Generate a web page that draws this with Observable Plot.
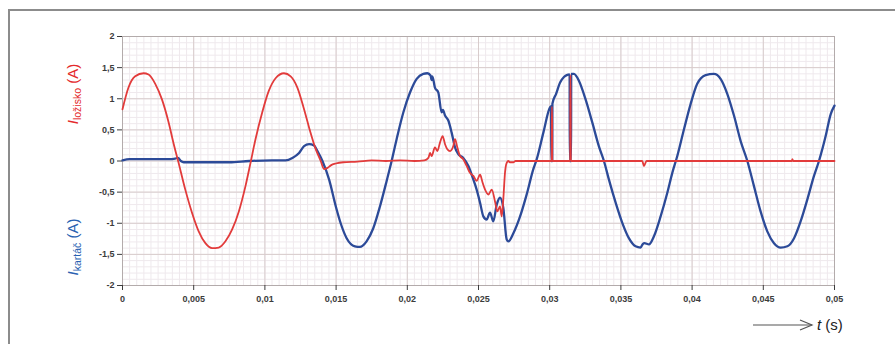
<!DOCTYPE html>
<html><head><meta charset="utf-8">
<script src="https://cdn.jsdelivr.net/npm/d3@7"></script>
<script src="https://cdn.jsdelivr.net/npm/@observablehq/plot@0.6"></script>
<style>
body{margin:0;background:#fff;}
#wrap{position:relative;width:895px;height:344px;overflow:hidden;font-family:"Liberation Sans",Arial,sans-serif;}
#border{position:absolute;left:8px;top:9px;width:1000px;height:1000px;border-left:2px solid #8c8c8c;border-top:2px solid #8c8c8c;}
#chart{position:absolute;left:0;top:0;}
.ylab{position:absolute;transform-origin:center;transform:translate(-50%,-50%) rotate(-90deg);white-space:nowrap;font-size:15px;line-height:1;}
.ylab sub{font-size:10.5px;vertical-align:-3px;}
#tlab{position:absolute;left:817px;top:316px;font-size:15px;color:#222;white-space:nowrap;}
#arrow{position:absolute;left:750px;top:316px;}
</style></head>
<body><div id="wrap"><div id="border"></div><div id="chart"></div>
<div class="ylab" style="left:74px;top:94px;color:#e42a2c"><i>I</i><sub>ložisko</sub> (A)</div>
<div class="ylab" style="left:74px;top:247px;color:#2a62b2"><i>I</i><sub>kartáč</sub> (A)</div>
<svg id="arrow" width="66" height="18"><line x1="3" y1="9" x2="62" y2="9" stroke="#555" stroke-width="1.2"/><polyline points="50,4 62,9 50,14" fill="none" stroke="#555" stroke-width="1.2"/></svg>
<div id="tlab"><i>t</i> (s)</div>
</div>
<script>
const xTicks = [0, 0.005, 0.01, 0.015, 0.02, 0.025, 0.03, 0.035, 0.04, 0.045, 0.05];
const xTickLabels = ["0", "0,005", "0,01", "0,015", "0,02", "0,025", "0,03", "0,035", "0,04", "0,045", "0,05"];
const yTicks = [-2, -1.5, -1, -0.5, 0, 0.5, 1, 1.5, 2];
const yTickLabels = ["-2", "-1,5", "-1", "-0,5", "0", "0,5", "1", "1,5", "2"];

// I_ložisko (red): [t (s), current (A)]
const redCurrent = [
  [0, 0.83], [0.00042, 1.18], [0.00089, 1.36], [0.00148, 1.41], [0.00183, 1.39], [0.0023, 1.24],
  [0.00277, 0.99], [0.00324, 0.62], [0.0036, 0.27], [0.00394, -0.03], [0.00441, -0.46], [0.00488, -0.83],
  [0.00535, -1.13], [0.00582, -1.32], [0.00629, -1.40], [0.00676, -1.39], [0.00723, -1.29], [0.0077, -1.10],
  [0.00817, -0.81], [0.00864, -0.40], [0.00899, -0.03], [0.00934, 0.35], [0.00981, 0.78], [0.01028, 1.13],
  [0.01075, 1.33], [0.01134, 1.41], [0.01181, 1.36], [0.01228, 1.18], [0.01275, 0.83], [0.0131, 0.54],
  [0.01357, 0.19], [0.01392, 0], [0.01415, -0.13], [0.0144, -0.11], [0.01463, -0.07], [0.01498, -0.04],
  [0.0155, -0.02], [0.0165, -0.01], [0.0175, 0.01], [0.0185, 0], [0.0195, 0.01], [0.0205, 0], [0.0212, 0.01],
  [0.02148, 0.05], [0.0216, 0.13], [0.02171, 0.08], [0.02194, 0.22], [0.02211, 0.16], [0.0223, 0.30],
  [0.02248, 0.40], [0.02265, 0.27], [0.02281, 0.19], [0.023, 0.16], [0.02323, 0.24], [0.02335, 0.35],
  [0.02351, 0.22], [0.0237, 0.08], [0.02393, 0.03], [0.02417, -0.08], [0.0244, -0.19], [0.02464, -0.24],
  [0.02487, -0.32], [0.02511, -0.22], [0.02529, -0.35], [0.02546, -0.46], [0.02569, -0.54], [0.02593, -0.46],
  [0.02616, -0.65], [0.02632, -0.81], [0.02651, -0.73], [0.02663, -0.89], [0.02674, -0.62], [0.02686, -0.19],
  [0.02698, -0.03], [0.0271, 0], [0.0272, -0.02], [0.02745, -0.02], [0.0276, 0], [0.0278, 0], [0.029, 0],
  [0.0301, 0], [0.03014, 0], [0.03015, 0.87], [0.03017, 0.87], [0.03018, 0], [0.0308, 0],
  [0.03144, 0], [0.03145, 1.38], [0.03147, 1.38], [0.03148, 0], [0.0325, 0], [0.035, 0], [0.0365, 0],
  [0.03662, -0.08], [0.0368, 0], [0.038, 0], [0.04, 0], [0.042, 0], [0.044, 0], [0.046, 0], [0.047, 0],
  [0.04704, 0.03], [0.0471, 0], [0.0485, 0], [0.05, 0]
];

// I_kartáč (blue): [t (s), current (A)]
const blueCurrent = [
  [0, 0.01], [0.0005, 0.03], [0.0015, 0.03], [0.0025, 0.03], [0.0033, 0.03], [0.0037, 0.04], [0.0039, 0.05],
  [0.0041, 0], [0.0043, -0.02], [0.006, -0.02], [0.0075, -0.02], [0.0089, 0], [0.0105, 0.01], [0.01146, 0.01],
  [0.01193, 0.05], [0.0124, 0.13], [0.01275, 0.24], [0.0131, 0.27], [0.01345, 0.25], [0.01369, 0.16],
  [0.01404, 0], [0.01451, -0.30], [0.01498, -0.73], [0.01535, -1.02], [0.01574, -1.24], [0.01632, -1.37],
  [0.01667, -1.38], [0.01714, -1.29], [0.01761, -1.08], [0.01808, -0.73], [0.01855, -0.32], [0.0189, 0],
  [0.01925, 0.35], [0.01972, 0.78], [0.02019, 1.10], [0.02066, 1.32], [0.02112, 1.40], [0.02141, 1.41],
  [0.02164, 1.37], [0.0217, 1.30], [0.02176, 1.36], [0.02194, 1.18], [0.02218, 1.10], [0.02241, 0.78],
  [0.0225, 0.82], [0.02265, 0.73], [0.02288, 0.65], [0.02311, 0.46], [0.02335, 0.22], [0.02358, 0.11],
  [0.02393, 0.05], [0.02429, -0.08], [0.02464, -0.30], [0.02487, -0.46], [0.02511, -0.67], [0.02534, -0.89],
  [0.02557, -0.94], [0.02581, -0.83], [0.02604, -0.97], [0.02628, -0.70], [0.02651, -0.59], [0.02674, -0.75],
  [0.02698, -1.26], [0.0271, -1.29], [0.02745, -1.16], [0.02792, -0.89], [0.02838, -0.54], [0.02885, -0.13],
  [0.02909, 0.03], [0.02956, 0.46], [0.03002, 0.86], [0.0301, 0.88], [0.03011, 0], [0.03018, 0], [0.03019, 0.92],
  [0.03045, 1.08], [0.03073, 1.26], [0.031, 1.35], [0.0312, 1.38], [0.0314, 1.39], [0.03141, 0], [0.0315, 0],
  [0.03151, 1.40], [0.0317, 1.40], [0.03205, 1.29], [0.03252, 0.99], [0.03299, 0.62], [0.03345, 0.24],
  [0.03381, 0], [0.03416, -0.30], [0.03463, -0.67], [0.03509, -0.99], [0.03556, -1.24], [0.03603, -1.37],
  [0.03638, -1.39], [0.03655, -1.33], [0.03665, -1.32], [0.03697, -1.34], [0.03732, -1.21], [0.03779, -0.89],
  [0.03826, -0.51], [0.03861, -0.19], [0.03896, 0.08], [0.03943, 0.51], [0.03989, 0.91], [0.04036, 1.24],
  [0.04095, 1.38], [0.04153, 1.40], [0.042, 1.32], [0.04247, 1.08], [0.04294, 0.73], [0.04341, 0.32],
  [0.04388, 0], [0.04434, -0.40], [0.04481, -0.81], [0.04528, -1.13], [0.04575, -1.32], [0.04622, -1.39],
  [0.04669, -1.37], [0.04716, -1.24], [0.04762, -0.97], [0.04809, -0.62], [0.04856, -0.24], [0.04891, 0],
  [0.04938, 0.40], [0.04973, 0.75], [0.05, 0.89]
];

const rows = s => s.map(([t, v]) => ({t, v}));
const minorX = d3.range(0, 101).map(i => i * 0.0005);
const minorY = d3.range(-20, 21).map(i => i / 10);

const chart = Plot.plot({
  width: 895, height: 344,
  marginLeft: 122, marginRight: 61, marginTop: 36, marginBottom: 59,
  x: {domain: [0, 0.05]},
  y: {domain: [-2, 2]},
  style: {fontFamily: "'Liberation Sans', Arial, sans-serif", fontSize: "9px", fontWeight: "bold", color: "#3c3c3c", background: "transparent"},
  marks: [
    Plot.ruleX(minorX, {stroke: "#efe9ed", strokeWidth: 1}),
    Plot.ruleY(minorY, {stroke: "#efe9ed", strokeWidth: 1}),
    Plot.ruleX(xTicks, {stroke: "#d8cccc", strokeWidth: 1}),
    Plot.ruleY(yTicks, {stroke: "#d8cccc", strokeWidth: 1}),
    Plot.frame({stroke: "#b3abab"}),
    Plot.axisX(xTicks, {tickFormat: d => xTickLabels[xTicks.indexOf(d)], tickSize: 5, tickPadding: 5, label: null}),
    Plot.axisY(yTicks, {tickFormat: d => yTickLabels[yTicks.indexOf(d)], tickSize: 5, tickPadding: 3, label: null}),
    Plot.line(rows(blueCurrent), {x: "t", y: "v", stroke: "#2c4a98", strokeWidth: 2.3, curve: "monotone-x"}),
    Plot.line(rows(redCurrent), {x: "t", y: "v", stroke: "#e23b3b", strokeWidth: 1.8, curve: "monotone-x"})
  ]
});
document.getElementById("chart").appendChild(chart);
</script>
</body></html>
